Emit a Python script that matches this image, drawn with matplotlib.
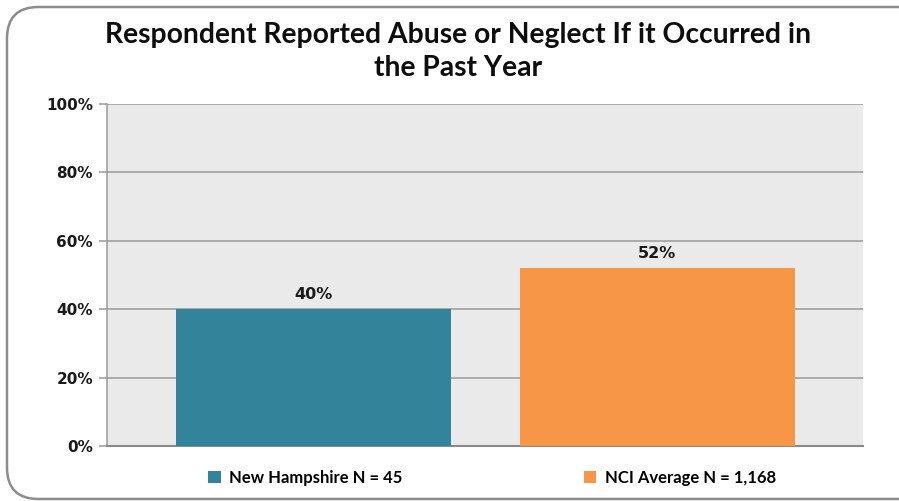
import matplotlib
matplotlib.use("Agg")
import matplotlib.pyplot as plt
from matplotlib.patches import FancyBboxPatch, Patch

series_names = ["New Hampshire N = 45", "NCI Average N = 1,168"]
values = [40, 52]
colors = ["#33849B", "#F79646"]
yticks = [0, 20, 40, 60, 80, 100]
ytick_labels = ["0%", "20%", "40%", "60%", "80%", "100%"]
title = "Respondent Reported Abuse or Neglect If it Occurred in\nthe Past Year"

W, H = 899, 501
fig = plt.figure(figsize=(W / 100, H / 100), dpi=100)

# rounded outer frame
frame = FancyBboxPatch((7 / W, 2 / H), (W + 30) / W, (H - 9) / H,
                       boxstyle="round,pad=0,rounding_size=0.035",
                       transform=fig.transFigure, facecolor="none",
                       edgecolor="#8C8C8C", linewidth=1.8, mutation_aspect=W / H,
                       zorder=-1)
fig.patches.append(frame)

left, right, top, bottom = 107, 863, 104, 446
ax = fig.add_axes([left / W, 1 - bottom / H, (right - left) / W, (bottom - top) / H])
ax.set_facecolor("#EAEAEA")
ax.set_xlim(0, 1)
ax.set_ylim(0, 100)

bar_w = 275 / 756
centers = [(313.5 - left) / 756, (657 - left) / 756]
for c, v, col, name in zip(centers, values, colors, series_names):
    ax.bar(c, v, width=bar_w, color=col, zorder=3, label=name)
    ax.text(c, v + 2.0, f"{v}%", ha="center", va="bottom",
            fontsize=11.5, fontweight="bold", color="#1A1A1A",
            family="DejaVu Sans", zorder=4)

ax.set_yticks(yticks)
ax.set_yticklabels(ytick_labels)
for lbl in ax.get_yticklabels():
    lbl.set_fontfamily("DejaVu Sans")
    lbl.set_fontweight("bold")
    lbl.set_fontsize(11)
    lbl.set_color("#1A1A1A")
ax.set_xticks([])
ax.yaxis.grid(True, color="#9A9A9A", linewidth=1.1, zorder=1)
ax.tick_params(axis="y", length=6, color="#9A9A9A", width=1.1, pad=4)
for s in ["top", "right"]:
    ax.spines[s].set_visible(False)
ax.spines["left"].set_color("#9A9A9A")
ax.spines["left"].set_linewidth(1.1)
ax.spines["bottom"].set_color("#8A8A8A")
ax.spines["bottom"].set_linewidth(1.5)

fig.text(458 / W, 1 - 51.5 / H, title, ha="center", va="center",
         fontsize=20.3, fontweight="bold", family="Lato", linespacing=1.3,
         color="#0D0D0D")

handles = [Patch(facecolor=c, edgecolor="none") for c in colors]
leg = fig.legend(handles, series_names, loc="center", ncol=2,
                 bbox_to_anchor=(492 / W, 1 - 478 / H), frameon=False,
                 prop={"family": "Lato", "weight": "bold", "size": 12},
                 handlelength=0.75, handleheight=0.75, handletextpad=0.5,
                 columnspacing=10.9)

fig.savefig("out.png", dpi=100)
